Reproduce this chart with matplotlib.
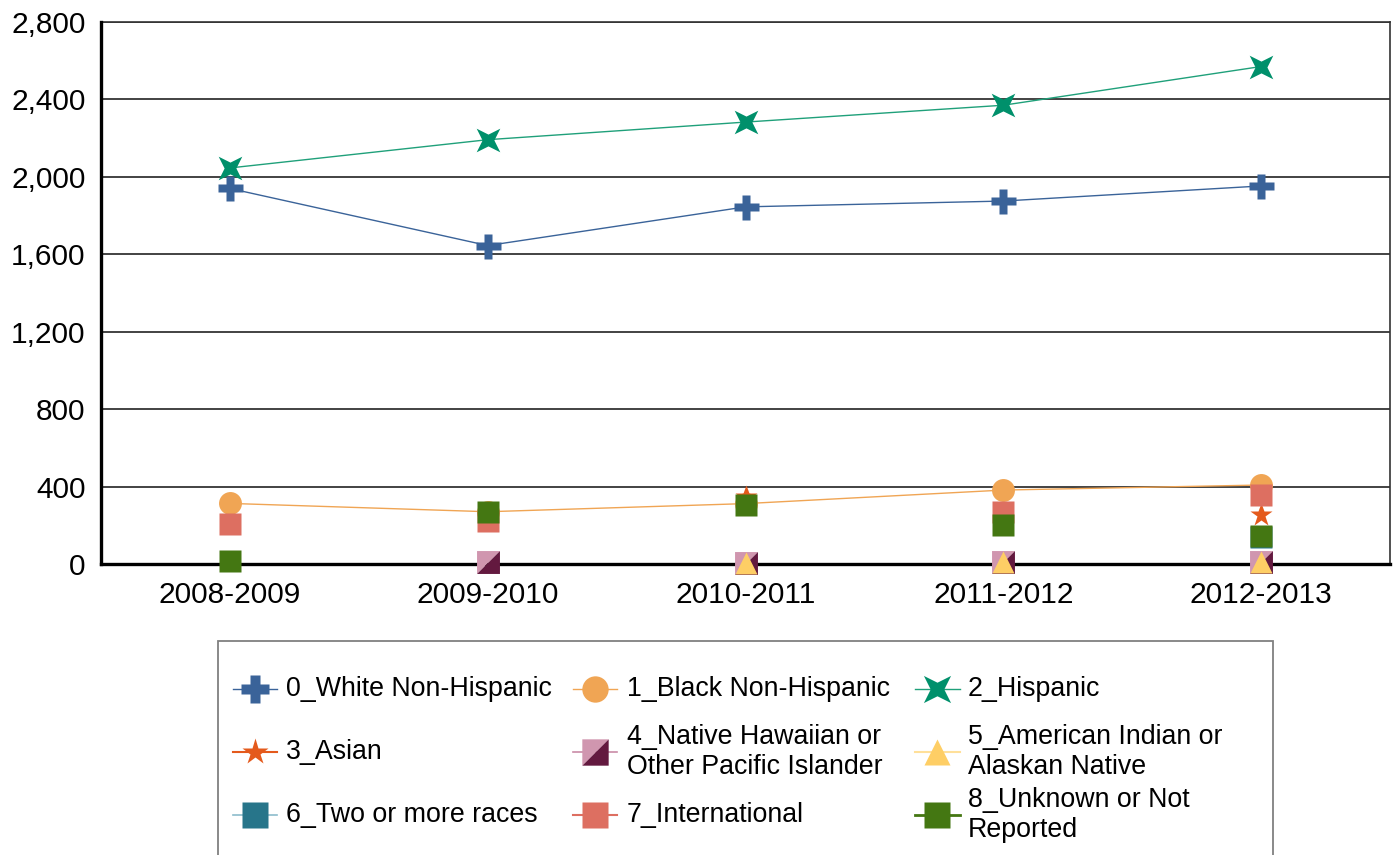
import numpy as np
import matplotlib
matplotlib.use("Agg")
import matplotlib.pyplot as plt
from matplotlib.lines import Line2D
from matplotlib.patches import Rectangle
from matplotlib.ticker import FuncFormatter, MultipleLocator

plt.rcParams['font.family'] = ['Liberation Sans', 'DejaVu Sans']

years = ["2008-2009", "2009-2010", "2010-2011", "2011-2012", "2012-2013"]
nan = np.nan
white = [1940, 1645, 1845, 1875, 1953]
black = [313, 270, 312, 382, 408]
hispanic = [2046, 2192, 2283, 2370, 2570]
asian = [nan, nan, 345, nan, 252]
hawaiian = [nan, 9, 5, 12, 10]
amindian = [nan, nan, 5, 12, 10]
tworaces = [nan, nan, nan, nan, 140]
international = [207, 222, nan, 271, 355]
unknown = [15, 267, 303, 204, 146]

labels = ["0_White Non-Hispanic", "1_Black Non-Hispanic", "2_Hispanic",
          "3_Asian", "4_Native Hawaiian or\nOther Pacific Islander",
          "5_American Indian or\nAlaskan Native",
          "6_Two or more races", "7_International",
          "8_Unknown or Not\nReported"]

W, H = 1398, 855
fig = plt.figure(figsize=(W / 100, H / 100), dpi=100)
ax = fig.add_axes([101 / W, 1 - 564 / H, (1390 - 101) / W, (564 - 22) / H])

star4 = [(1, 1), (0.5, 0), (1, -1), (0, -0.5), (-1, -1), (-0.5, 0),
         (-1, 1), (0, 0.5), (1, 1)]
tri_ul = [(-1, 1), (1, 1), (-1, -1), (-1, 1)]
tri_lr = [(1, 1), (1, -1), (-1, -1), (1, 1)]

styles = [
    dict(marker='P', ms=18, color='#3A6399', lc='#3A6399', lw=1.0),
    dict(marker='o', ms=16.5, color='#F0A554', lc='#F0A554', lw=1.0),
    dict(marker=star4, ms=17, color='#00906B', lc='#1FA07A', lw=1.0),
    dict(marker='*', ms=17, color='#E45A1C', lc='#E45A1C', lw=1.5),
    dict(marker='nh', ms=16.5, color='#D096AF', lc='#C98BA7', lw=1.2),
    dict(marker='^', ms=16.5, color='#FECE65', lc='#FFE09A', lw=1.5),
    dict(marker='s', ms=16.5, color='#27758A', lc='#8CBCCC', lw=1.2),
    dict(marker='s', ms=16.5, color='#DD6F61', lc='#DD6F61', lw=1.5),
    dict(marker='s', ms=16.5, color='#447712', lc='#447712', lw=2.0),
]
series = [white, black, hispanic, asian, hawaiian, amindian, tworaces,
          international, unknown]
x = np.arange(len(years))

for i, (vals, st) in enumerate(zip(series, styles)):
    ls = '-' if i < 3 else 'none'
    if st['marker'] == 'nh':
        ax.plot(x, vals, linestyle='none', marker=tri_ul, ms=st['ms'],
                mfc='#D096AF', mec='none', zorder=30 + i, clip_on=False)
        ax.plot(x, vals, linestyle='none', marker=tri_lr, ms=st['ms'],
                mfc='#63193F', mec='none', zorder=30 + i, clip_on=False)
    else:
        ax.plot(x, vals, linestyle=ls, color=st['lc'], lw=st['lw'],
                marker=st['marker'], ms=st['ms'], mfc=st['color'],
                mec='none', zorder=30 + i, clip_on=False)

ax.set_xlim(-0.5, len(years) - 0.5)
ax.set_ylim(0, 2800)
ax.yaxis.set_major_locator(MultipleLocator(400))
ax.yaxis.set_major_formatter(FuncFormatter(lambda v, p: f"{int(v):,}"))
ax.set_xticks(x)
ax.set_xticklabels(years)
ax.tick_params(axis='both', length=0, labelsize=21.5)
ax.tick_params(axis='y', pad=11)
ax.tick_params(axis='x', pad=12)
ax.grid(axis='y', color='#222222', lw=1.2, zorder=1)
ax.set_axisbelow(True)
for s in ['left', 'bottom']:
    ax.spines[s].set_linewidth(2.4)
    ax.spines[s].set_color('black')
    ax.spines[s].set_zorder(20)
for s in ['top', 'right']:
    ax.spines[s].set_linewidth(1.2)
    ax.spines[s].set_color('#333333')

def fx(px):
    return px / W

def fy(py):
    return 1 - py / H

fig.add_artist(Rectangle((fx(218), fy(880)), fx(1273) - fx(218),
                         fy(641) - fy(880), transform=fig.transFigure,
                         fill=False, edgecolor='#808080', lw=1.3,
                         clip_on=False))
col_line = [(233, 277), (573, 617), (915, 960)]
col_text = [286, 627, 968]
row_y = [689, 752, 815]
LEG_SCALE = 1.15
for i, (lab, st) in enumerate(zip(labels, styles)):
    r, c = divmod(i, 3)
    x0, x1 = col_line[c]
    xm = (x0 + x1) / 2
    yy = fy(row_y[r])
    ms = st['ms'] * LEG_SCALE
    fig.add_artist(Line2D([fx(x0), fx(x1)], [yy, yy], color=st['lc'],
                          lw=st['lw'], transform=fig.transFigure))
    if st['marker'] == 'nh':
        fig.add_artist(Line2D([fx(xm)], [yy], marker=tri_ul, ms=ms,
                              mfc='#D096AF', mec='none', linestyle='none',
                              transform=fig.transFigure))
        fig.add_artist(Line2D([fx(xm)], [yy], marker=tri_lr, ms=ms,
                              mfc='#63193F', mec='none', linestyle='none',
                              transform=fig.transFigure))
    else:
        fig.add_artist(Line2D([fx(xm)], [yy], marker=st['marker'],
                              ms=ms, mfc=st['color'], mec='none',
                              linestyle='none', transform=fig.transFigure))
    fig.text(fx(col_text[c]), yy, lab, ha='left', va='center',
             fontsize=19.3, linespacing=1.22)

fig.savefig("out.png", dpi=100)
